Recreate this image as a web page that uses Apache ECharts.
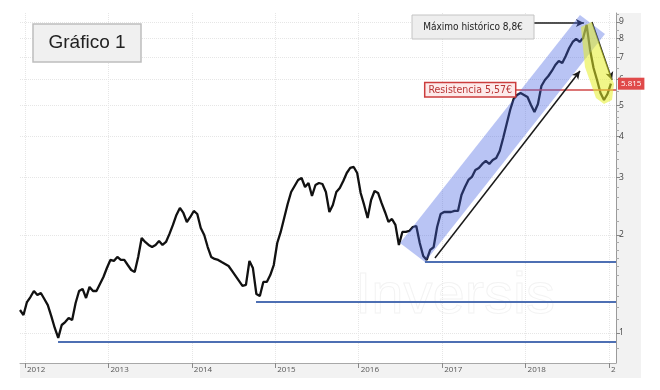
<!DOCTYPE html>
<html><head><meta charset="utf-8">
<script src="https://cdn.jsdelivr.net/npm/echarts@6/dist/echarts.min.js"></script>
<style>html,body{margin:0;padding:0;background:#fff}#c{width:660px;height:390px}</style>
</head><body><div id="c"></div>
<script>
// half-monthly closing prices (EUR), first sample ~ Dec 2011
const startYear = 2011.94;
const periodsPerYear = 24;
const prices = [
 1.176,1.135,1.244,1.289,1.345,1.307,1.326,1.271,1.218,1.127,
 1.036,0.966,1.058,1.080,1.112,1.096,1.236,1.345,1.365,1.280,
 1.384,1.345,1.345,1.414,1.485,1.582,1.675,1.663,1.711,1.675,
 1.675,1.616,1.560,1.539,1.711,1.956,1.902,1.862,1.835,1.862,
 1.915,1.862,1.902,2.013,2.145,2.301,2.418,2.334,2.190,2.269,
 2.367,2.317,2.099,1.998,1.835,1.711,1.687,1.675,1.651,1.628,
 1.605,1.550,1.496,1.444,1.394,1.404,1.663,1.582,1.317,1.298,
 1.434,1.434,1.506,1.616,1.888,2.041,2.253,2.487,2.707,2.824,
 2.946,2.988,2.804,2.884,2.631,2.844,2.884,2.864,2.707,2.350,
 2.470,2.707,2.784,2.925,3.095,3.207,3.230,3.095,2.688,2.470,
 2.253,2.558,2.726,2.688,2.505,2.350,2.190,2.237,2.145,1.862,
 2.041,2.041,2.056,2.114,2.129,1.888,1.723,1.675,1.797,1.835,
 2.114,2.317,2.350,2.350,2.350,2.367,2.367,2.650,2.804,2.946,
 3.009,3.162,3.207,3.299,3.370,3.299,3.393,3.441,3.616,3.963,
 4.376,4.830,5.220,5.370,5.446,5.370,5.294,5.004,4.763,5.039,
 5.723,5.970,6.141,6.362,6.638,6.828,6.732,7.073,7.484,7.808,
 7.975,7.808,8.031,8.804,7.379,6.498,5.970,5.446,5.183,5.407,
 5.815
];
const yearTicks = [2012,2013,2014,2015,2016,2017,2018,2019];
const priceTicks = [1,2,3,4,5,6,7,8,9];
const minorPriceTicks = [0.9,1.1,1.2,1.3,1.4,1.5,1.6,1.7,1.8,1.9,2.2,2.4,2.6,2.8,3.2,3.4,3.6,3.8,4.2,4.4,4.6,4.8,5.5,6.5,7.5,8.5,9.5];
const lastPrice = 5.815;
const resistance = [2017.873, 5.57];
const resistanceLabel = 'Resistencia 5,57€';
const maxLabel = 'Máximo histórico 8,8€';
const supports = [[2016.794,1.65],[2014.769,1.25],[2012.396,0.94]];
const channelPoly = [[2016.495,1.888],[2016.794,1.651],[2018.952,8.26],[2018.652,9.45]];
const yellowPoly = [[2018.664,8.68],[2018.796,8.99],[2019.06,5.80],[2019.036,5.18],[2018.94,5.04],[2018.844,5.26],[2018.712,6.54]];
const arrows = [
  [[2018.101,8.93],[2018.70,8.93]],
  [[2016.914,1.698],[2018.652,6.36]],
  [[2018.796,8.99],[2019.036,5.97]]
];
const xMin = 2011.94, xMax = 2019.084, yMin = 0.809, yMax = 9.58;

const chart = echarts.init(document.getElementById('c'), null, {renderer:'canvas'});
const seriesData = prices.map((p,i)=>[startYear + i/periodsPerYear, p]);
const narrow = "'Liberation Sans Narrow','DejaVu Sans Condensed','Liberation Sans',sans-serif";

const markData = [];
supports.forEach(s=>{
  markData.push([{coord:[s[0],s[1]], symbol:'none', lineStyle:{color:'#4d6fb3',width:2,type:'solid'}, label:{show:false}},
                 {coord:[xMax,s[1]], symbol:'none'}]);
});
markData.push([{coord:resistance, symbol:'none', lineStyle:{color:'#d04848',width:1.5,type:'solid'},
   label:{show:true, position:'start', distance:0, formatter:resistanceLabel, color:'#b83636', fontSize:10.5,
     fontFamily:narrow, backgroundColor:'#fdeaea', borderColor:'#cc3d3d', borderWidth:1.5, padding:[1,3,1,3]}},
  {coord:[xMax,resistance[1]], symbol:'none'}]);
arrows.forEach(a=>{
  markData.push([{coord:a[0], symbol:'none', lineStyle:{color:'#1a1a1a',width:1.5,type:'solid'}, label:{show:false}},
                 {coord:a[1], symbol:'arrow', symbolSize:[6,8]}]);
});
markData.push([{coord:[xMax-0.01,lastPrice], symbol:'none', lineStyle:{color:'transparent',width:0},
  label:{show:true, position:'end', distance:2, formatter:'5.815', color:'#fff', fontSize:8,
    fontFamily:"'Open Sans',sans-serif", backgroundColor:'#e04a4a', padding:[2,3,2,3]}},
  {coord:[xMax,lastPrice], symbol:'none'}]);

const option = {
  animation:false,
  backgroundColor:'#fff',
  grid:{left:20,right:44,top:13,bottom:27},
  xAxis:{type:'value', min:xMin, max:xMax,
    axisLine:{show:true, lineStyle:{color:'#a8a8a8'}},
    axisTick:{show:true, customValues:yearTicks, length:5, lineStyle:{color:'#888'}},
    axisLabel:{customValues:yearTicks, align:'left', margin:3, padding:[0,0,0,2], fontSize:8, color:'#555',
      fontFamily:"'Open Sans',sans-serif", formatter:v=> (Math.round(v)===2019?'2':String(Math.round(v)))},
    splitLine:{show:true, lineStyle:{color:'#e6e6e6', type:'dotted'}}
  },
  yAxis:[{type:'log', logBase:10, min:yMin, max:yMax, position:'right',
    axisLine:{show:true, lineStyle:{color:'#9a9a9a'}},
    axisTick:{show:true, customValues:priceTicks, length:4, lineStyle:{color:'#888'}},
    axisLabel:{customValues:priceTicks, margin:3, fontSize:8.5, color:'#444', fontFamily:"'Open Sans',sans-serif",
      formatter:v=>String(Math.round(v))},
    splitLine:{show:true, lineStyle:{color:'#e6e6e6', type:'dotted'}}
  },{type:'log', logBase:10, min:yMin, max:yMax, position:'right',
    axisLine:{show:false},
    axisTick:{show:true, customValues:minorPriceTicks, length:3, lineStyle:{color:'#aaa'}},
    axisLabel:{show:false}, splitLine:{show:false}
  }],
  graphic:[
    {type:'rect', z:-10, shape:{x:616,y:13,width:25,height:365}, style:{fill:'#f2f2f2'}},
    {type:'rect', z:-10, shape:{x:20,y:363,width:621,height:15}, style:{fill:'#f2f2f2'}},
    {type:'text', z:-5, x:455, y:297, style:{text:'Inversis', fontSize:58, fontFamily:"'Liberation Sans',sans-serif",
       fill:'rgba(255,255,255,0)', stroke:'#f3f3f3', lineWidth:1, align:'center', verticalAlign:'middle'}},
    {type:'rect', z:20, shape:{x:33,y:24,width:108,height:38}, style:{fill:'#f0f0f0', stroke:'#bdbdbd', lineWidth:1.5}},
    {type:'text', z:21, x:87, y:43, style:{text:'Gráfico 1', fontSize:19, fontFamily:"'Liberation Sans',Arial,sans-serif",
       fill:'#222', align:'center', verticalAlign:'middle'}},
    {type:'rect', z:20, shape:{x:412,y:15,width:122,height:24}, style:{fill:'#eeeeee', stroke:'#c4c4c4', lineWidth:1}},
    {type:'text', z:21, x:473, y:27, style:{text:maxLabel, fontSize:10, fontFamily:narrow,
       fill:'#222', align:'center', verticalAlign:'middle'}}
  ],
  series:[
    {type:'line', data:seriesData, showSymbol:false, symbol:'none', z:3,
     lineStyle:{color:'#111', width:2.3}, silent:true,
     markLine:{silent:true, symbol:'none', data:markData, animation:false}
    },
    {type:'custom', coordinateSystem:'cartesian2d', z:5, silent:true, clip:false,
     encode:{x:0,y:1},
     data:[[channelPoly[0][0],channelPoly[0][1],0],[yellowPoly[0][0],yellowPoly[0][1],1]],
     renderItem:(params,api)=>{
       const idx = api.value(2);
       const poly = idx===0?channelPoly:yellowPoly;
       return {type:'polygon', shape:{points:poly.map(p=>api.coord(p))},
         style:{fill: idx===0?'rgba(70,100,225,0.38)':'rgba(230,238,40,0.55)'}};
     }
    }
  ]
};
chart.setOption(option);
</script></body></html>
